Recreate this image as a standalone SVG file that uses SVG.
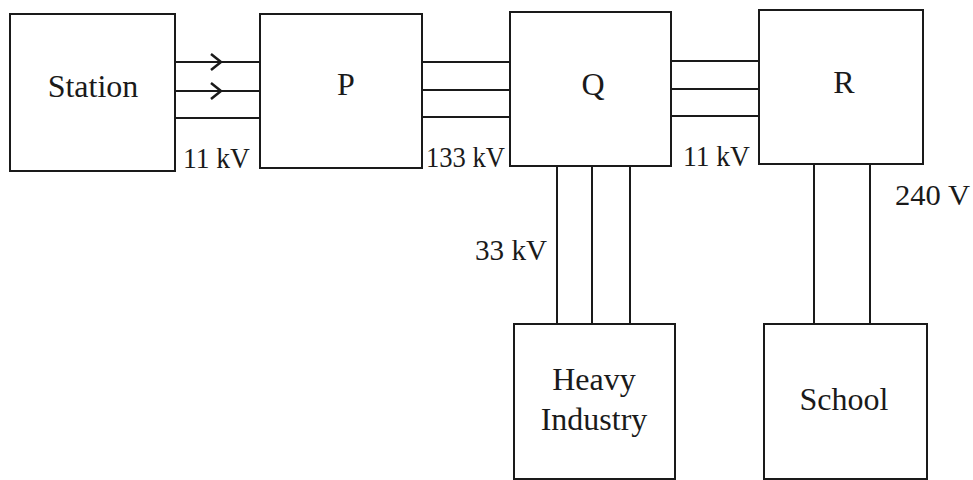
<svg xmlns="http://www.w3.org/2000/svg" width="973" height="480" viewBox="0 0 973 480">
<style>
.box{fill:#fff;stroke:#1a1a1a;stroke-width:2}
.ln{stroke:#1a1a1a;stroke-width:2;fill:none}
.arr{stroke:#1a1a1a;stroke-width:2.5;fill:none;stroke-linejoin:miter}
.t{font-size:32px;fill:#1a1a1a;text-anchor:middle}
.v{font-size:30px;fill:#1a1a1a}
</style>
<rect width="973" height="480" fill="#fff"/>
<g id="connectors">
<line class="ln" x1="175" y1="62" x2="260" y2="62"/>
<line class="ln" x1="175" y1="91" x2="260" y2="91"/>
<line class="ln" x1="175" y1="118" x2="260" y2="118"/>
<polyline class="arr" points="211,54 221,62 211,70"/>
<polyline class="arr" points="211,83 221,91 211,99"/>
<line class="ln" x1="422" y1="62" x2="510" y2="62"/>
<line class="ln" x1="422" y1="90" x2="510" y2="90"/>
<line class="ln" x1="422" y1="117" x2="510" y2="117"/>
<line class="ln" x1="671" y1="61" x2="759" y2="61"/>
<line class="ln" x1="671" y1="89" x2="759" y2="89"/>
<line class="ln" x1="671" y1="116" x2="759" y2="116"/>
<line class="ln" x1="557" y1="166" x2="557" y2="324"/>
<line class="ln" x1="592" y1="166" x2="592" y2="324"/>
<line class="ln" x1="630" y1="166" x2="630" y2="324"/>
<line class="ln" x1="814" y1="164" x2="814" y2="324"/>
<line class="ln" x1="870" y1="164" x2="870" y2="324"/>
</g>
<g font-family="Liberation Serif, DejaVu Serif, serif">
<g id="station">
<rect class="box" x="10" y="14" width="165" height="157"/>
<text class="t" x="93" y="97">Station</text>
</g>
<g id="P">
<rect class="box" x="260" y="14" width="162" height="154"/>
<text class="t" x="346" y="95">P</text>
</g>
<g id="Q">
<rect class="box" x="510" y="12" width="161" height="154"/>
<text class="t" x="593" y="95">Q</text>
</g>
<g id="R">
<rect class="box" x="759" y="10" width="164" height="154"/>
<text class="t" x="844" y="93">R</text>
</g>
<g id="heavy-industry">
<rect class="box" x="514" y="324" width="161" height="155"/>
<text class="t" x="594" y="390">Heavy</text>
<text class="t" x="594" y="430">Industry</text>
</g>
<g id="school">
<rect class="box" x="764" y="324" width="163" height="155"/>
<text class="t" x="844" y="410">School</text>
</g>
<g id="labels">
<text class="v" x="183" y="168" textLength="67" lengthAdjust="spacingAndGlyphs">11 kV</text>
<text class="v" x="426" y="167" textLength="79" lengthAdjust="spacingAndGlyphs">133 kV</text>
<text class="v" x="683" y="166" textLength="67" lengthAdjust="spacingAndGlyphs">11 kV</text>
<text class="v" x="895" y="205" textLength="75" lengthAdjust="spacingAndGlyphs">240 V</text>
<text class="v" x="475" y="260" textLength="72" lengthAdjust="spacingAndGlyphs">33 kV</text>
</g>
</g>
</svg>
